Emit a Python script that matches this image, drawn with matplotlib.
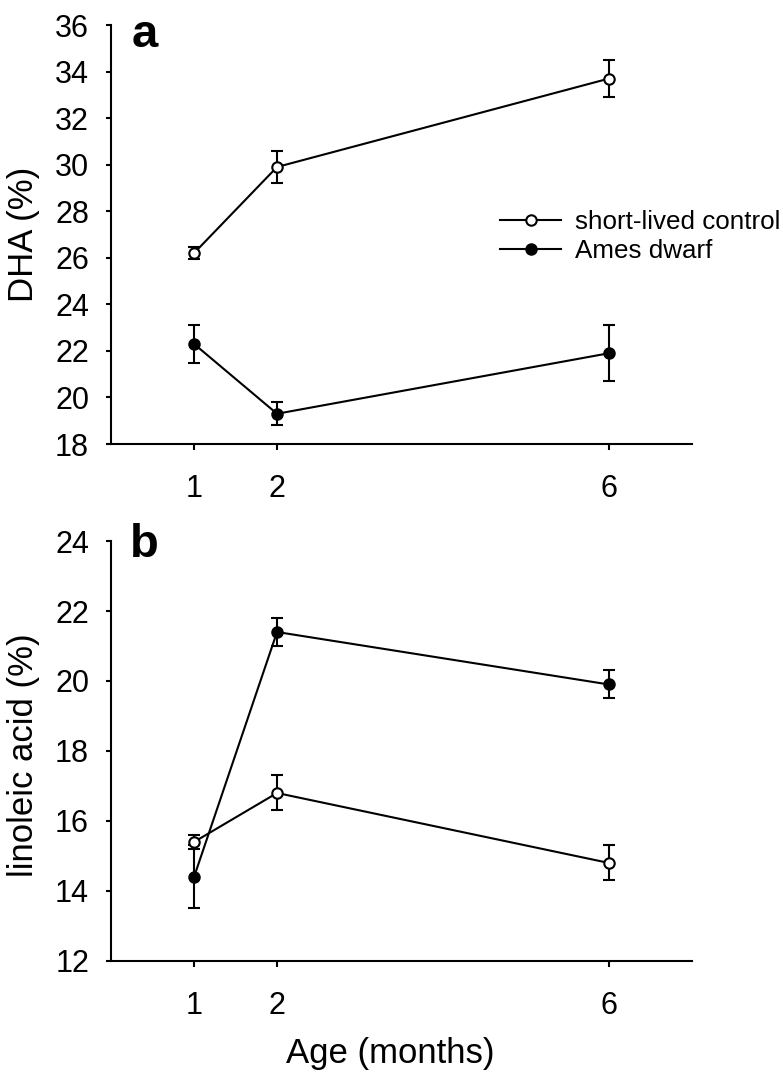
import numpy as np
import matplotlib
matplotlib.use('Agg')
import matplotlib.pyplot as plt
from matplotlib.lines import Line2D

plt.rcParams['font.family'] = ['Liberation Sans', 'DejaVu Sans']

# ── data ──────────────────────────────────────────────────────────────────────
months = [1, 2, 6]

dha_control     = [26.2, 29.9, 33.7]
dha_control_err = [0.25, 0.7, 0.8]
dha_dwarf       = [22.3, 19.3, 21.9]
dha_dwarf_err   = [0.8, 0.5, 1.2]

la_control      = [15.4, 16.8, 14.8]
la_control_err  = [0.2, 0.5, 0.5]
la_dwarf        = [14.4, 21.4, 19.9]
la_dwarf_err    = [0.9, 0.4, 0.4]

TICK_FS  = 22
LABEL_FS = 25
LW = 1.5

fig = plt.figure(figsize=(7.83, 10.73), dpi=100)
ax_a = fig.add_axes([0.1418, 0.5862, 0.742, 0.3905])
ax_b = fig.add_axes([0.1418, 0.1044, 0.742, 0.3914])


def draw_series(ax, y, err, filled):
    face = 'black' if filled else 'white'
    ax.errorbar(months, y, yerr=err, fmt='none', ecolor='black',
                elinewidth=LW, capsize=4.2, capthick=LW, zorder=3)
    ax.plot(months, y, color='black', lw=LW, marker='o', ms=7.5,
            mfc=face, mec='black', mew=1.5, zorder=4)


def style(ax, ylim, yticks):
    ax.set_xlim(0, 7)
    ax.set_ylim(*ylim)
    ax.set_xticks(months)
    ax.set_yticks(yticks)
    for s in ('top', 'right'):
        ax.spines[s].set_visible(False)
    for s in ('left', 'bottom'):
        ax.spines[s].set_linewidth(LW)
    ax.tick_params(axis='y', direction='out', length=3.8, width=LW,
                   labelsize=TICK_FS, pad=12)
    ax.tick_params(axis='x', direction='out', length=4.2, width=LW,
                   labelsize=TICK_FS, pad=17.5)


# ── panel a ──────────────────────────────────────────────────────────────────
draw_series(ax_a, dha_dwarf, dha_dwarf_err, True)
draw_series(ax_a, dha_control, dha_control_err, False)
style(ax_a, (18, 36), np.arange(18, 37, 2))
ax_a.set_ylabel('DHA (%)', fontsize=LABEL_FS)
ax_a.yaxis.set_label_coords(-0.1225, 0.5)
ax_a.text(0.036, 0.9475, 'a', transform=ax_a.transAxes, fontsize=34,
          fontweight='bold', va='baseline', ha='left')

handles = [
    Line2D([], [], color='black', lw=LW, marker='o', ms=7.5, mfc='white',
           mec='black', mew=1.5, label='short-lived control'),
    Line2D([], [], color='black', lw=LW, marker='o', ms=7.5, mfc='black',
           mec='black', mew=1.5, label='Ames dwarf'),
]
fig.legend(handles=handles, loc='center left',
           bbox_to_anchor=(0.6386, 0.7795), frameon=False, fontsize=18.7,
           handlelength=2.35, handletextpad=0.55, labelspacing=0.22,
           borderpad=0, borderaxespad=0, numpoints=1)

# ── panel b ──────────────────────────────────────────────────────────────────
draw_series(ax_b, la_dwarf, la_dwarf_err, True)
draw_series(ax_b, la_control, la_control_err, False)
style(ax_b, (12, 24), np.arange(12, 25, 2))
ax_b.set_ylabel('linoleic acid (%)', fontsize=LABEL_FS)
ax_b.yaxis.set_label_coords(-0.1225, 0.49)
ax_b.set_xlabel('Age (months)', fontsize=LABEL_FS)
ax_b.xaxis.set_label_coords(0.481, -0.182)
ax_b.text(0.033, 0.962, 'b', transform=ax_b.transAxes, fontsize=34,
          fontweight='bold', va='baseline', ha='left')

fig.savefig('out.png', dpi=100, facecolor='white')
plt.close(fig)
